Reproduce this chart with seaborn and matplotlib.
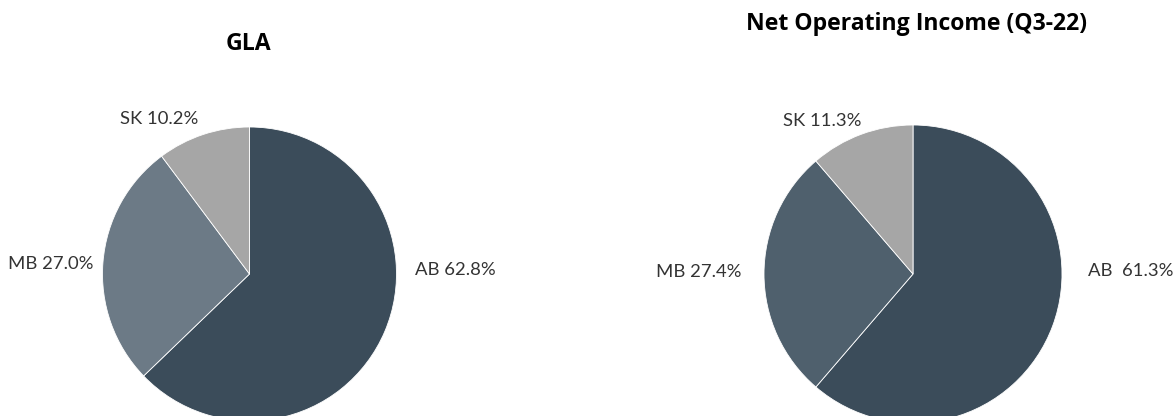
import matplotlib
matplotlib.use("Agg")
import matplotlib.pyplot as plt
import seaborn as sns

# ---- data ----
regions = ["AB", "MB", "SK"]
gla_share = [62.8, 27.0, 10.2]
noi_share = [61.3, 27.4, 11.3]
gla_title = "GLA"
noi_title = "Net Operating Income (Q3-22)"
noi_sep = ["  ", " ", " "]  # spacing as printed in the source
gla_sep = [" ", " ", " "]

sns.set_theme(style="white")
plt.rcParams["font.family"] = ["Lato", "DejaVu Sans"]

gla_colors = ["#3B4C5A", "#6C7A86", "#A6A6A6"]
noi_colors = ["#3B4C5A", "#4F606D", "#A6A6A6"]

W, H = 1176, 416
fig = plt.figure(figsize=(W / 100, H / 100), dpi=100)
ax = fig.add_axes([0, 0, 1, 1])

wp = dict(edgecolor="white", linewidth=0.6)
ax.pie(gla_share, colors=gla_colors, startangle=90, counterclock=False,
       center=(249.5, H - 274), radius=147, wedgeprops=wp, frame=True)
ax.pie(noi_share, colors=noi_colors, startangle=90, counterclock=False,
       center=(913, H - 274), radius=149, wedgeprops=wp, frame=True)

ax.set_xlim(0, W)
ax.set_ylim(0, H)
ax.set_aspect("auto")
ax.axis("off")

txt = dict(fontsize=13.3, fontweight="normal", color="#333333", va="center")

def lab(names, seps, vals):
    return [f"{n}{s}{v:.1f}%" for n, s, v in zip(names, seps, vals)]

g = lab(regions, gla_sep, gla_share)
n = lab(regions, noi_sep, noi_share)

# GLA labels
ax.text(415, H - 270, g[0], ha="left", **txt)
ax.text(93, H - 264, g[1], ha="right", **txt)
ax.text(159.5, H - 119.5, g[2], ha="center", **txt)
# NOI labels
ax.text(1088, H - 271, n[0], ha="left", **txt)
ax.text(742, H - 272, n[1], ha="right", **txt)
ax.text(822.5, H - 121, n[2], ha="center", **txt)

tt = dict(fontsize=16.6, fontweight="bold", color="#000000", ha="center", va="center",
          family=["Open Sans", "Lato", "DejaVu Sans"])
ax.text(248.5, H - 44, gla_title, **tt)
ax.text(916, H - 23.5, noi_title, **tt)

fig.savefig("out.png", dpi=100)
